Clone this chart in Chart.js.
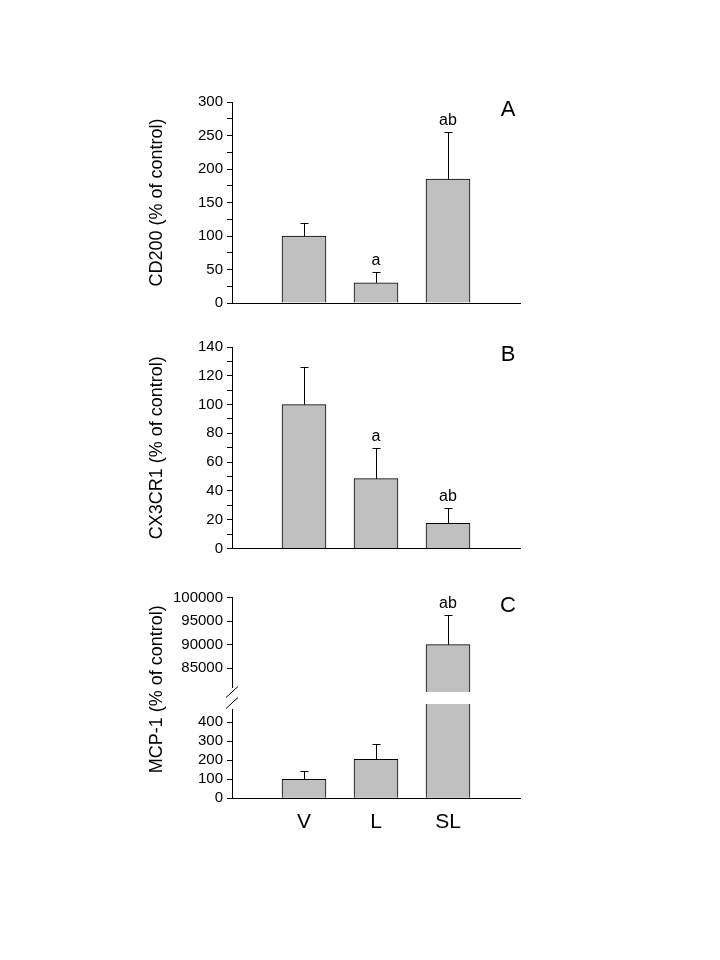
<!DOCTYPE html>
<html><head><meta charset="utf-8">
<script src="https://cdn.jsdelivr.net/npm/chart.js@4.4.0/dist/chart.umd.min.js"></script>
<style>
html,body{margin:0;padding:0;background:#fff;}
#wrap{position:relative;width:720px;height:960px;}
#wrap canvas{position:absolute;left:0;top:0;}
</style></head><body>
<div id="wrap">
<canvas id="cA" width="720" height="960"></canvas>
<canvas id="cB" width="720" height="960"></canvas>
<canvas id="cC1" width="720" height="960"></canvas>
<canvas id="cC2" width="720" height="960"></canvas>
</div>
<script>
// ---- data ----
const categories = ['V', 'L', 'SL'];

const cd200Mean = [100, 30, 185];
const cd200Err  = [20, 16, 70];
const cd200Sig  = ['', 'a', 'ab'];
const cd200TickValues = [0,25,50,75,100,125,150,175,200,225,250,275,300];
const cd200TickLabels = [0,50,100,150,200,250,300];

const cx3cr1Mean = [100, 48.5, 17.5];
const cx3cr1Err  = [26, 21.5, 10.5];
const cx3cr1Sig  = ['', 'a', 'ab'];
const cx3cr1TickValues = [0,10,20,30,40,50,60,70,80,90,100,110,120,130,140];
const cx3cr1TickLabels = [0,20,40,60,80,100,120,140];

const mcp1Mean = [100, 205, 90000];
const mcp1Err  = [43, 79, 6400];
const mcp1Sig  = ['', '', 'ab'];
const mcp1HighTicks = [85000, 90000, 95000, 100000];
const mcp1LowTicks  = [0, 100, 200, 300, 400];

const panelLetters = ['A', 'B', 'C'];
const yTitles = ['CD200 (% of control)', 'CX3CR1 (% of control)', 'MCP-1 (% of control)'];

// ---- styling / layout ----
const FONT = "'Liberation Sans', Arial, sans-serif";
Chart.defaults.font.family = FONT;
Chart.defaults.color = '#000';
const BAR_FILL = '#c0c0c0';
const AXIS_LEFT = 232, AXIS_RIGHT = 520, Y_W = 92;

function panel(id, o) {
  const labels = ['', ...categories, ''];
  const data = [null, ...o.mean, null];
  const annot = {
    id: 'annot',
    afterDatasetsDraw(chart) {
      const ctx = chart.ctx, y = chart.scales.y, meta = chart.getDatasetMeta(0);
      const area = chart.chartArea;
      ctx.save();
      ctx.strokeStyle = '#000'; ctx.lineWidth = 1; ctx.fillStyle = '#000';
      ctx.font = '16px ' + FONT;
      ctx.textAlign = 'center'; ctx.textBaseline = 'alphabetic';
      o.mean.forEach((m, i) => {
        if (m < y.min || m > y.max) return;
        const bar = meta.data[i + 1];
        const x = Math.round(bar.x) + 0.5;
        const yb = y.getPixelForValue(m);
        const yt = Math.round(y.getPixelForValue(m + o.err[i])) + 0.5;
        ctx.beginPath();
        ctx.moveTo(x, yb); ctx.lineTo(x, yt);
        ctx.moveTo(x - 4, yt); ctx.lineTo(x + 4, yt);
        ctx.stroke();
        if (o.sig[i]) ctx.fillText(o.sig[i], bar.x, yt - 8);
      });
      if (o.letter) {
        ctx.font = '22px ' + FONT;
        ctx.textBaseline = 'middle';
        ctx.fillText(o.letter, area.right - 12, area.top + 8);
      }
      if (o.extra) o.extra(chart, ctx);
      ctx.restore();
    }
  };
  return new Chart(document.getElementById(id), {
    type: 'bar',
    data: { labels, datasets: [{
      data, backgroundColor: BAR_FILL, borderColor: '#000', borderWidth: 1,
      barThickness: 44, clip: o.clip
    }] },
    options: {
      responsive: false, animation: false,
      layout: { padding: { left: AXIS_LEFT - Y_W, right: 720 - AXIS_RIGHT, top: o.top, bottom: 960 - o.bottom - o.xHeight } },
      plugins: { legend: { display: false }, tooltip: { enabled: false } },
      scales: {
        x: {
          display: o.showX, offset: false,
          grid: { display: true, drawOnChartArea: false, drawTicks: false },
          border: { display: true, color: '#000', width: 1 },
          ticks: { display: !!o.xLabels, font: { size: 21 }, padding: 11, color: '#000', autoSkip: false, maxRotation: 0 },
          afterFit: s => { s.height = o.xHeight; }
        },
        y: {
          min: o.min, max: o.max,
          afterBuildTicks: s => { s.ticks = o.tickValues.map(v => ({ value: v })); },
          ticks: { font: { size: 15 }, padding: 4, color: '#000', autoSkip: false,
                   callback: v => o.tickLabels.includes(v) ? String(v) : '' },
          grid: { drawOnChartArea: false, drawTicks: true, tickLength: 5, color: '#000' },
          border: { display: true, color: '#000', width: 1 },
          title: o.title ? { display: true, text: o.title, font: { size: 18 }, color: '#000', padding: { top: 6, bottom: 0 } } : { display: false },
          afterFit: s => { s.width = Y_W; }
        }
      }
    },
    plugins: [annot]
  });
}

panel('cA', { mean: cd200Mean, err: cd200Err, sig: cd200Sig, min: 0, max: 300,
  tickValues: cd200TickValues, tickLabels: cd200TickLabels,
  top: 102, bottom: 303, xHeight: 0, showX: true, title: yTitles[0], letter: panelLetters[0] });

panel('cB', { mean: cx3cr1Mean, err: cx3cr1Err, sig: cx3cr1Sig, min: 0, max: 140,
  tickValues: cx3cr1TickValues, tickLabels: cx3cr1TickLabels,
  top: 347, bottom: 548.5, xHeight: 0, showX: true, title: yTitles[1], letter: panelLetters[1] });

panel('cC1', { mean: mcp1Mean, err: mcp1Err, sig: mcp1Sig, min: 81000, max: 100000,
  tickValues: mcp1HighTicks, tickLabels: mcp1HighTicks,
  top: 597.7, bottom: 687, xHeight: 0, showX: false, letter: panelLetters[2],
  clip: { left: false, right: false, top: 0, bottom: 5 } });

panel('cC2', { mean: mcp1Mean, err: mcp1Err, sig: mcp1Sig, min: 0, max: 470,
  tickValues: mcp1LowTicks, tickLabels: mcp1LowTicks,
  top: 709, bottom: 798.3, xHeight: 40, showX: true, xLabels: true,
  clip: { left: false, right: false, top: 5, bottom: 0 },
  extra: (chart, ctx) => {
    const a = chart.chartArea;
    // axis break marks
    ctx.beginPath();
    [a.top - 6, a.top - 17].forEach(cy => {
      ctx.moveTo(a.left - 6, cy + 5.5); ctx.lineTo(a.left + 6, cy - 5.5);
    });
    ctx.stroke();
    // y-axis title spanning both parts of panel C
    ctx.save();
    ctx.translate(a.left - 75, a.bottom - 109);
    ctx.rotate(-Math.PI / 2);
    ctx.font = '18px ' + FONT;
    ctx.textAlign = 'center'; ctx.textBaseline = 'middle';
    ctx.fillText(yTitles[2], 0, 0);
    ctx.restore();
  } });
</script>
</body></html>
